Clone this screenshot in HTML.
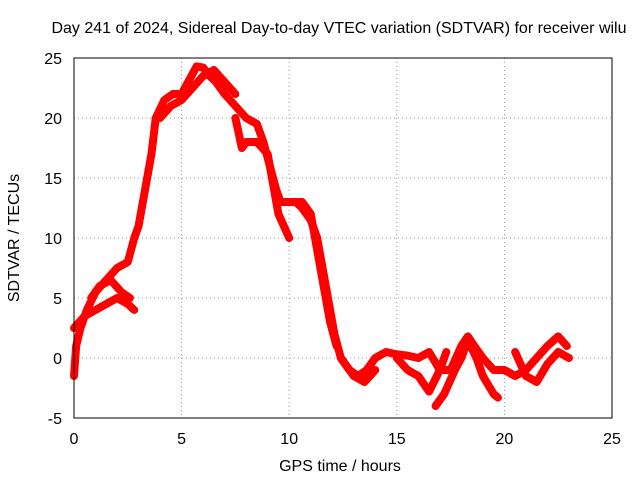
<!DOCTYPE html>
<html><head><meta charset="utf-8"><style>
body{margin:0;background:#fff}
svg{display:block;font-family:"Liberation Sans",sans-serif;font-size:16px}
</style></head><body>
<svg id="chart" width="640" height="480">
<text x="339" y="33" text-anchor="middle">Day 241 of 2024, Sidereal Day-to-day VTEC variation (SDTVAR) for receiver wilu</text>
<text x="340" y="471" text-anchor="middle">GPS time / hours</text>
<text transform="translate(19,238) rotate(-90)" text-anchor="middle">SDTVAR / TECUs</text>
<g id="grid"></g><g id="ticks"></g><g id="series"></g>
<rect x="74" y="58" width="538" height="360" fill="none" stroke="#000"/>
</svg>
<script>
const xTicks=[0,5,10,15,20,25];
const yTicks=[-5,0,5,10,15,20,25];
const trackA_x=[0,0.1,0.3,0.6,1,1.5,2,2.5,2.8,3,3.3,3.6,3.8,4.2,4.6,5,5.3,5.7,6,6.3,6.6,7,7.5,8,8.5,8.8,9.1,9.4,9.6,10,10.3,10.6,11,11.3,11.6,11.9,12.1,12.4,12.8,13.2,13.6,14,14.5,15,15.5,16,16.5,17,17.5,18,18.3,18.6,19,19.5,20,20.5,21,21.5,22,22.5,22.9];
const trackA_y=[-1.5,1,2.5,4,5.5,6.5,7.5,8,10,11,14,17,20,21.5,22,22,23,24.3,24.2,23.5,23,22,21,20,19.5,18,16,14,13,13,13,12.5,11.5,10,7,4,2,0,-1,-1.5,-1,0,0.5,0.3,0.2,0,0.5,-1,-1,1,1.8,1,0,-1,-1,-1.5,-1,0,1,1.8,1];
const trackB_x=[0,0.5,1,1.5,2,2.5,2.8];
const trackB_y=[2.5,3.5,4,4.5,5,4.5,4];
const trackC_x=[0.8,1.2,1.7,2.2,2.6];
const trackC_y=[5,6,6.5,5.5,5];
const trackD_x=[7.5,7.8,8,8.5,9,9.2,9.5,10];
const trackD_y=[20,17.5,18,18,17,15,12,10];
const trackE_x=[10.2,10.6,11,11.3,11.6,11.9,12.2];
const trackE_y=[13,13,12,9,6,3,1];
const trackF_x=[12.4,13,13.5,14];
const trackF_y=[0,-1.5,-2,-1];
const trackG_x=[15,15.5,16,16.5,17,17.3];
const trackG_y=[0,-1,-1.5,-2.8,-1,0.5];
const trackH_x=[16.8,17.2,17.7,18,18.3,18.7,19,19.5,19.7];
const trackH_y=[-4,-3,-1,0,1.5,0,-1.5,-3,-3.3];
const trackI_x=[20.5,21,21.5,22,22.5,23];
const trackI_y=[0.5,-1.5,-2,-0.5,0.5,0];
const trackJ_x=[4,4.5,5,5.5,6,6.5,7,7.5];
const trackJ_y=[20,21,21.5,22.5,23.5,24,23,22];
const tracks=[[trackA_x,trackA_y],[trackB_x,trackB_y],[trackC_x,trackC_y],[trackD_x,trackD_y],[trackE_x,trackE_y],[trackF_x,trackF_y],[trackG_x,trackG_y],[trackH_x,trackH_y],[trackI_x,trackI_y],[trackJ_x,trackJ_y]];
const NS="http://www.w3.org/2000/svg";
const X=v=>74+v*538/25, Y=v=>418-(v+5)*12;
const grid=document.getElementById('grid'),ticks=document.getElementById('ticks'),ser=document.getElementById('series');
function mk(tag,attrs,parent){const e=document.createElementNS(NS,tag);for(const k in attrs)e.setAttribute(k,attrs[k]);parent.appendChild(e);return e;}
xTicks.forEach(t=>{
 if(t>0&&t<25){const g=mk('line',{x1:X(t),x2:X(t),y1:58,y2:418,stroke:'#999','stroke-dasharray':'1,3'},grid);
 
 }
 const l=mk('text',{x:X(t),y:444,'text-anchor':'middle'},ticks);l.textContent=t;
 
 
});
yTicks.forEach(t=>{
 if(t>-5&&t<25){const g=mk('line',{x1:74,x2:612,y1:Y(t),y2:Y(t),stroke:'#999','stroke-dasharray':'1,3'},grid);
 
 }
 const l=mk('text',{x:62,y:Y(t)+6,'text-anchor':'end'},ticks);l.textContent=t;
 
 
});
tracks.forEach(([xs,ys])=>{
 const p=mk('polyline',{points:xs.map((x,i)=>X(x)+','+Y(ys[i])).join(' '),fill:'none',stroke:'#f00','stroke-width':8,'stroke-linejoin':'round','stroke-linecap':'round'},ser);
 
 
});
</script>
</body></html>
